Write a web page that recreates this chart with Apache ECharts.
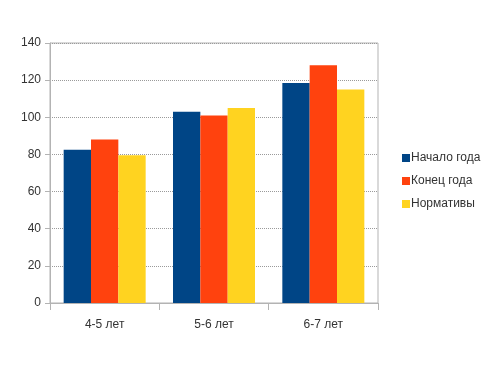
<!DOCTYPE html>
<html><head><meta charset="utf-8">
<script src="https://cdn.jsdelivr.net/npm/echarts@6/dist/echarts.min.js"></script>
<style>html,body{margin:0;padding:0;background:#fff}#c{width:491px;height:365px}</style>
</head><body><div id="c"></div>
<script>
const categories = ['4-5 лет', '5-6 лет', '6-7 лет'];
const seriesNames = ['Начало года', 'Конец года', 'Нормативы'];
const startYear = [82.5, 103, 118.5];
const endYear = [88, 101, 128];
const norms = [79.5, 105, 115];
const colors = ['#004586', '#ff420e', '#ffd320'];

const chart = echarts.init(document.getElementById('c'));
chart.setOption({
  animation: false,
  color: colors,
  textStyle: { fontFamily: '"Liberation Sans", Arial, sans-serif' },
  grid: { left: 50, right: 113, top: 43, bottom: 62, show: true, borderColor: '#b3b3b3', borderWidth: 1 },
  legend: {
    orient: 'vertical', left: 397, top: 147, itemWidth: 8, itemHeight: 8, itemGap: 11,
    icon: 'rect', textStyle: { fontSize: 12, color: '#333', padding: [0,0,0,-4] },
    data: seriesNames
  },
  xAxis: {
    type: 'category', data: categories,
    axisLine: { lineStyle: { color: '#b3b3b3' } },
    axisTick: { show: true, length: 7, lineStyle: { color: '#b3b3b3' } },
    axisLabel: { color: '#333', fontSize: 12, margin: 16 }
  },
  yAxis: {
    type: 'value', min: 0, max: 140, interval: 20,
    axisLine: { show: true, lineStyle: { color: '#b3b3b3' } },
    axisTick: { show: true, length: 5, lineStyle: { color: '#b3b3b3' } },
    axisLabel: { color: '#333', fontSize: 12, margin: 9 },
    splitLine: { lineStyle: { color: '#9a9a9a', type: 'dotted' } }
  },
  series: [
    { name: seriesNames[0], type: 'bar', data: startYear, barGap: '0%', barCategoryGap: '25%' },
    { name: seriesNames[1], type: 'bar', data: endYear, barGap: '0%', barCategoryGap: '25%' },
    { name: seriesNames[2], type: 'bar', data: norms, barGap: '0%', barCategoryGap: '25%' }
  ]
});
</script></body></html>
